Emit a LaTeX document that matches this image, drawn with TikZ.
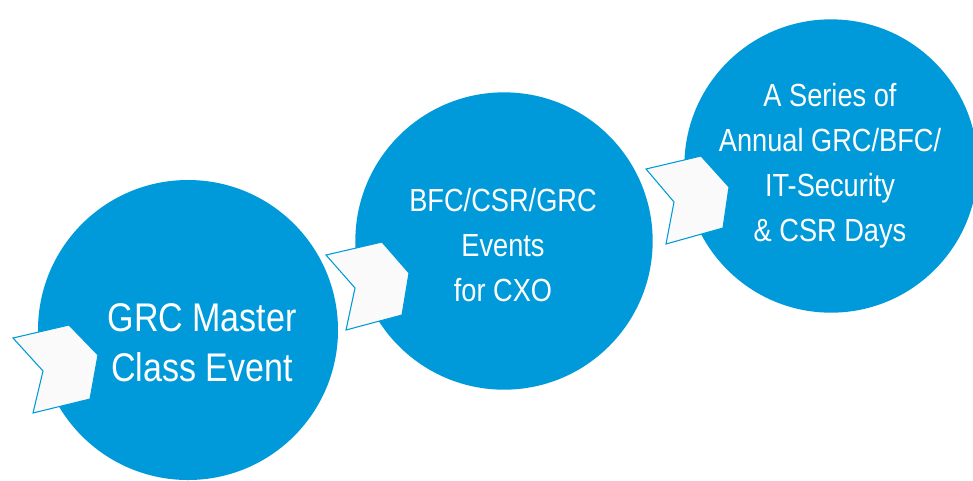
\documentclass[tikz,border=0pt]{standalone}
\usepackage{fontspec}
\setmainfont{Liberation Sans}[FakeStretch=0.85]
\definecolor{eventblue}{RGB}{0,154,218}
\begin{document}
\begin{tikzpicture}[x=0.75pt,y=-0.75pt]

	\tikzstyle{mycircle}=[circle,
	fill=eventblue,
	draw=none,
	inner sep=0pt,
	minimum size=225pt
	]
	\tikzstyle{mychevron}=[draw=eventblue, fill=white!98!black, line width=0.8pt, line join=miter]
	\tikzstyle{mytext}=[text=white, align=center, inner sep=0pt, font=\fontsize{24}{33.75}\selectfont]

	\useasboundingbox (0,0) rectangle (973,480);
	\clip (0,0) rectangle (973,480);

	\coordinate (pc1) at (188,330);
	\coordinate (pc2) at (504,241);
	\coordinate (pc3) at (831,166);

	\coordinate (pa1) at (13,338);
	\coordinate (pa2) at (326,255);
	\coordinate (pa3) at (646,169);

	\node[mycircle] (c1) at (pc1) {};
	\node[mycircle, minimum size=223pt] (c2) at (pc2) {};
	\node[mycircle, minimum size=220pt] (c3) at (pc3) {};

	\draw[mychevron] (pa1) -- ++(56,-13) -- ++(29,30) -- ++(-8,44) -- ++(-57,14) -- ++(10,-42) -- cycle;
	\draw[mychevron] (pa2) -- ++(56,-13) -- ++(27,31) -- ++(-7,42) -- ++(-56,15) -- ++(9,-42) -- cycle;
	\draw[mychevron] (pa3) -- ++(55,-13) -- ++(28,31) -- ++(-6,41) -- ++(-57,16) -- ++(8,-42) -- cycle;

	\node[mytext, font=\fontsize{30}{37.5}\selectfont] (t1) at (202,343) {GRC Master\\Class Event};
	\node[mytext] (t2) at (503,245) {BFC/CSR/GRC\\Events\\for CXO};
	\node[mytext] (t3) at (830,166) {A Series of\\Annual GRC/BFC/\\IT-Security\\\& CSR Days};

\end{tikzpicture}
\end{document}
